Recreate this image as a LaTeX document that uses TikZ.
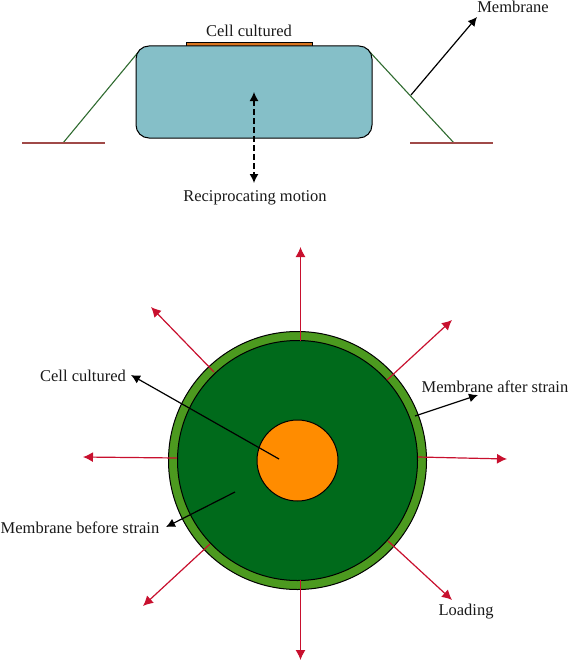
\documentclass[tikz,border=0pt]{standalone}
\usepackage{fontspec}
\setmainfont{Liberation Serif}
\usetikzlibrary{arrows.meta}
\definecolor{bluebox}{HTML}{85BFC8}
\definecolor{outerg}{HTML}{4C9A1F}
\definecolor{innerg}{HTML}{006A1B}
\definecolor{orangec}{HTML}{FF8C00}
\definecolor{stripc}{HTML}{D9751F}
\definecolor{memb}{HTML}{2F6B30}
\definecolor{basec}{HTML}{A04A48}
\definecolor{redc}{HTML}{C8102E}
\tikzset{
  lbl/.style={font=\fontsize{16.5}{18}\selectfont,inner sep=0pt,text=black!90},
  blk/.style={line width=1.2pt,-{Latex[length=9pt,width=9pt]}},
  redarrow/.style={redc,line width=1.2pt,-{Latex[length=10pt,width=10pt]}},
}
\begin{document}
\begin{tikzpicture}[x=1pt,y=-1pt]
\useasboundingbox (0,0) rectangle (569,661);
% top
\draw[memb,line width=1.1pt] (63,143) -- (140,50);
\draw[memb,line width=1.1pt] (368,50) -- (454,143);
\draw[basec,line width=1.2pt] (22,143) -- (105,143);
\draw[basec,line width=1.2pt] (410,143) -- (493,143);
\draw[fill=stripc,line width=.8pt] (186,42) rectangle (312,46);
\node[draw=black,fill=bluebox,line width=1pt,rounded corners=13pt,minimum width=236pt,minimum height=92pt,inner sep=0pt] (box) at (254,92) {};
\coordinate (dmid) at (254,92);
\coordinate (dbot) at (254,183);
\draw[line width=1.3pt,dash pattern=on 6pt off 3pt,{Latex[length=9pt,width=9pt]}-{Latex[length=9pt,width=9pt]}] (dmid) -- (dbot);
\coordinate (ma) at (411,95);
\coordinate (mb) at (477,17);
\draw[blk] (ma) -- (mb);
\node[lbl] (t1) at (249,30.5) {Cell cultured};
\node[lbl] (t2) at (513,6.5) {Membrane};
\node[lbl] (t3) at (255,197.5) {Reciprocating motion};
% red arrows
\coordinate (r1) at (300.5,340.5); \coordinate (R1) at (300.5,247);
\coordinate (r2) at (387,380); \coordinate (R2) at (452,320);
\coordinate (r3) at (418,457); \coordinate (R3) at (507,459);
\coordinate (r4) at (388,541); \coordinate (R4) at (452,600);
\coordinate (r5) at (300.5,580); \coordinate (R5) at (300.5,660);
\coordinate (r6) at (210,544); \coordinate (R6) at (143,606);
\coordinate (r7) at (177,458); \coordinate (R7) at (83,457);
\coordinate (r8) at (214,372); \coordinate (R8) at (151,307);
% circles
\node[circle,draw=black,fill=outerg,line width=1pt,minimum size=258pt,inner sep=0pt] (outer) at (297.5,460.5) {};
\node[circle,draw=black,fill=innerg,line width=1pt,minimum size=240pt,inner sep=0pt] (inner) at (297.5,460.5) {};
\foreach \i in {1,...,8}{\draw[redarrow] (r\i) -- (R\i);}
\node[circle,draw=black,fill=orangec,line width=1pt,minimum size=81pt,inner sep=0pt] (core) at (297.5,460.5) {};
\coordinate (ca) at (279,459); \coordinate (cb) at (131,375);
\draw[blk] (ca) -- (cb);
\coordinate (ba) at (235,492); \coordinate (bb) at (166,527);
\draw[blk] (ba) -- (bb);
\coordinate (aa) at (415,416); \coordinate (ab) at (478,395);
\draw[blk] (aa) -- (ab);
\node[lbl] (t4) at (83,375.5) {Cell cultured};
\node[lbl] (t5) at (495,386.5) {Membrane after strain};
\node[lbl] (t6) at (80,527.5) {Membrane before strain};
\node[lbl] (t7) at (466,612) {Loading};
\end{tikzpicture}
\end{document}
